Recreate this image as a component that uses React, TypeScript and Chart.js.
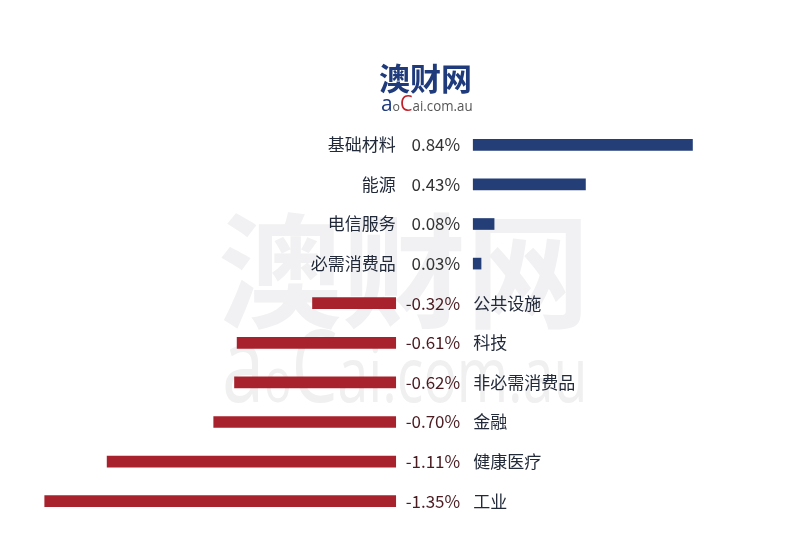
import React, { useEffect, useRef } from "react";
import { Chart, registerables } from "chart.js";

Chart.register(...registerables);

const categories = [
  "基础材料",
  "能源",
  "电信服务",
  "必需消费品",
  "公共设施",
  "科技",
  "非必需消费品",
  "金融",
  "健康医疗",
  "工业",
];
const changes = [0.84, 0.43, 0.08, 0.03, -0.32, -0.61, -0.62, -0.7, -1.11, -1.35];
const valueLabels = ["0.84%", "0.43%", "0.08%", "0.03%", "-0.32%", "-0.61%", "-0.62%", "-0.70%", "-1.11%", "-1.35%"];

const positiveValues = changes.map((v) => (v >= 0 ? v : null));
const negativeValues = changes.map((v) => (v < 0 ? v : null));

const FONT = "'Noto Sans CJK SC', 'Noto Sans', sans-serif";

const watermarkPlugin = {
  id: "watermark",
  beforeDatasetsDraw(chart: any) {
    const ctx = chart.ctx as CanvasRenderingContext2D;
    ctx.save();
    ctx.fillStyle = "#f1f1f3";
    ctx.textBaseline = "alphabetic";
    ctx.textAlign = "left";
    ctx.font = `bold 124px ${FONT}`;
    ctx.fillText("澳财网", 218, 318);
    ctx.fillStyle = "#f0f0f0";
    ctx.translate(222, 402);
    ctx.scale(0.73, 1);
    let x = 0;
    const parts: [string, number][] = [
      ["a", 104],
      ["o", 62],
      ["C", 100],
      ["ai.com.au", 76],
    ];
    for (const [t, s] of parts) {
      ctx.font = `${s}px 'Open Sans', sans-serif`;
      ctx.fillText(t, x, 0);
      x += ctx.measureText(t).width;
    }
    ctx.restore();
  },
};

const logoPlugin = {
  id: "logo",
  afterDraw(chart: any) {
    const ctx = chart.ctx as CanvasRenderingContext2D;
    ctx.save();
    ctx.textAlign = "left";
    ctx.textBaseline = "alphabetic";
    ctx.fillStyle = "#1f3b7c";
    ctx.font = `bold 31px ${FONT}`;
    ctx.fillText("澳财网", 379, 90);
    ctx.translate(381, 111);
    ctx.scale(0.95, 1);
    let x = 0;
    const parts: [string, number, string][] = [
      ["a", 22, "#1f3b7c"],
      ["o", 13, "#555"],
      ["C", 21, "#c0222b"],
      ["ai.com.au", 14, "#555"],
    ];
    for (const [t, s, c] of parts) {
      ctx.font = `${s}px 'Open Sans', sans-serif`;
      ctx.fillStyle = c;
      ctx.fillText(t, x, 0);
      x += ctx.measureText(t).width;
    }
    ctx.restore();
  },
};

const labelPlugin = {
  id: "rowLabels",
  afterDatasetsDraw(chart: any) {
    const ctx = chart.ctx as CanvasRenderingContext2D;
    const yScale = chart.scales.y;
    const negZero = chart.scales.xNeg.getPixelForValue(0);
    const posZero = chart.scales.xPos.getPixelForValue(0);
    ctx.save();
    ctx.font = `17px ${FONT}`;
    ctx.textBaseline = "middle";
    changes.forEach((v, i) => {
      const y = yScale.getPixelForValue(i);
      if (v >= 0) {
        ctx.textAlign = "right";
        ctx.fillStyle = "#222a3a";
        ctx.fillText(categories[i], negZero, y);
        ctx.fillStyle = "#333333";
        ctx.fillText(valueLabels[i], posZero - 13, y);
      } else {
        ctx.textAlign = "right";
        ctx.fillStyle = "#4a1c22";
        ctx.fillText(valueLabels[i], posZero - 13, y);
        ctx.textAlign = "left";
        ctx.fillStyle = "#222a3a";
        ctx.fillText(categories[i], posZero, y);
      }
    });
    ctx.restore();
  },
};

export default function App() {
  const canvasRef = useRef<HTMLCanvasElement | null>(null);

  useEffect(() => {
    if (!canvasRef.current) return;
    const chart = new Chart(canvasRef.current, {
      type: "bar",
      data: {
        labels: categories,
        datasets: [
          {
            label: "上涨",
            data: positiveValues,
            xAxisID: "xPos",
            backgroundColor: "#243f78",
            borderWidth: 0,
            barThickness: 11,
            grouped: false,
          } as any,
          {
            label: "下跌",
            data: negativeValues,
            xAxisID: "xNeg",
            backgroundColor: "#a8222d",
            borderWidth: 0,
            barThickness: 11,
            grouped: false,
          } as any,
        ],
      },
      options: {
        indexAxis: "y",
        animation: false,
        responsive: false,
        maintainAspectRatio: false,
        layout: { padding: { top: 125, bottom: 29, left: 0, right: 0 } },
        plugins: {
          legend: { display: false },
          tooltip: { enabled: false },
        },
        scales: {
          y: { display: false, type: "category" },
          xNeg: {
            type: "linear",
            position: "bottom",
            display: false,
            min: -1.522,
            max: 1.555,
          },
          xPos: {
            type: "linear",
            position: "bottom",
            display: false,
            min: -1.813,
            max: 1.252,
          },
        },
      },
      plugins: [watermarkPlugin, labelPlugin, logoPlugin],
    });
    return () => chart.destroy();
  }, []);

  return (
    <div style={{ position: "fixed", left: 0, top: 0, width: 800, height: 550, background: "#ffffff" }}>
      <canvas ref={canvasRef} width={800} height={550} style={{ width: 800, height: 550, display: "block" }} />
    </div>
  );
}
